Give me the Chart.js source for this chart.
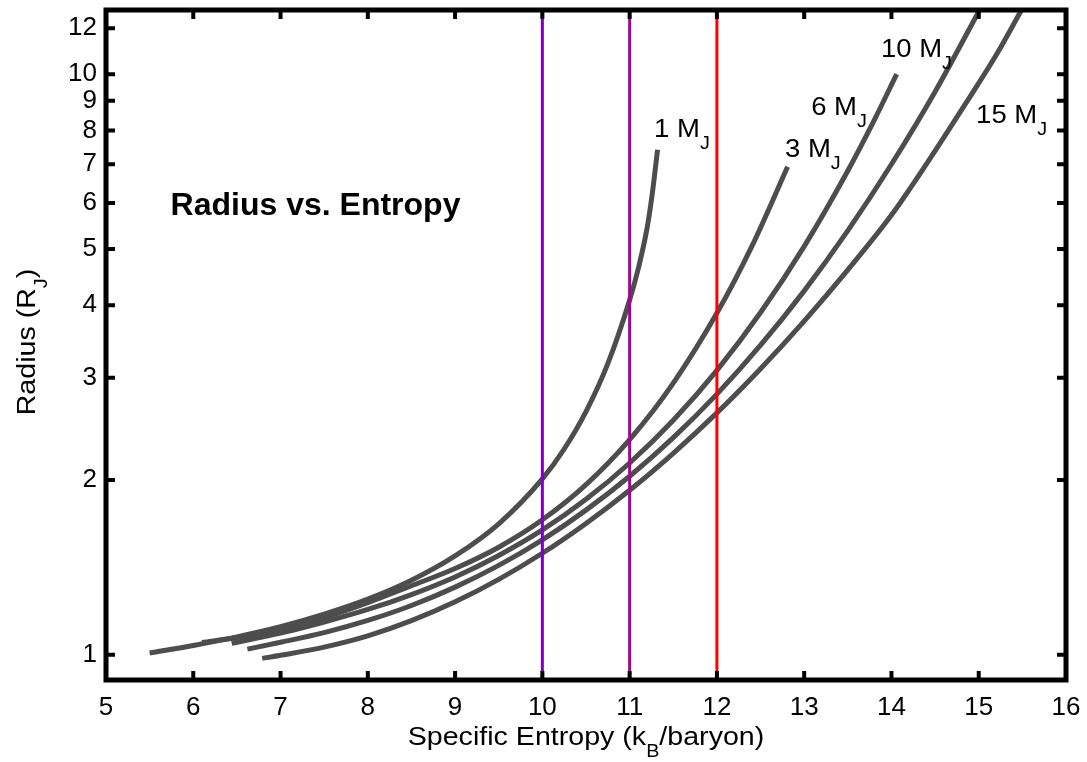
<!DOCTYPE html>
<html>
<head>
<meta charset="utf-8">
<script src="https://cdn.jsdelivr.net/npm/chart.js@4/dist/chart.umd.min.js"></script>
<style>
  html, body { margin: 0; padding: 0; background: #fff; }
  #wrap { width: 1087px; height: 762px; }
</style>
</head>
<body>
<div id="wrap"><canvas id="c" width="1087" height="762"></canvas></div>
<script>
// ---------- data ----------
const xTicks = [5, 6, 7, 8, 9, 10, 11, 12, 13, 14, 15, 16];
const yTicks = [1, 2, 3, 4, 5, 6, 7, 8, 9, 10, 12];
const xMin = 5, xMax = 16;
const yMin = 0.905, yMax = 12.9;

const masses = ['1', '3', '6', '10', '15'];

const entropy1 = [5.5, 6.0, 6.5, 7.0, 7.5, 8.0, 8.5, 9.0, 9.5, 10.0, 10.25, 10.5, 10.75, 11.0, 11.1, 11.2, 11.26, 11.32];
const radius1  = [1.007, 1.038, 1.074, 1.118, 1.175, 1.247, 1.344, 1.480, 1.681, 2.009, 2.262, 2.624, 3.173, 4.083, 4.632, 5.433, 6.237, 7.413];

const entropy3 = [6.1, 6.5, 7.0, 7.5, 8.0, 8.5, 9.0, 9.5, 10.0, 10.5, 11.0, 11.5, 12.0, 12.4, 12.81];
const radius3  = [1.05, 1.071, 1.104, 1.159, 1.230, 1.315, 1.408, 1.532, 1.708, 1.964, 2.348, 2.938, 3.878, 5.053, 6.93];

const entropy6 = [6.44, 7.0, 7.5, 8.0, 8.5, 9.0, 9.5, 10.0, 10.5, 11.0, 11.5, 12.0, 12.5, 13.0, 13.5, 13.8, 14.06];
const radius6  = [1.047, 1.090, 1.139, 1.197, 1.270, 1.362, 1.483, 1.641, 1.853, 2.140, 2.535, 3.090, 3.886, 5.053, 6.82, 8.32, 10.0];

const entropy10 = [6.62, 7.0, 7.5, 8.0, 8.5, 9.0, 9.5, 10.0, 10.5, 11.0, 11.5, 12.0, 12.5, 13.0, 13.5, 14.0, 14.5, 15.01];
const radius10  = [1.023, 1.051, 1.092, 1.146, 1.216, 1.308, 1.426, 1.578, 1.775, 2.030, 2.366, 2.812, 3.414, 4.235, 5.377, 6.996, 9.33, 12.9];

const entropy15 = [6.79, 7.0, 7.5, 8.0, 8.5, 9.0, 9.5, 10.0, 10.5, 11.0, 11.5, 12.0, 12.5, 13.0, 13.5, 14.0, 14.4, 14.86, 15.2, 15.49];
const radius15  = [0.986, 0.998, 1.031, 1.078, 1.145, 1.234, 1.349, 1.496, 1.684, 1.921, 2.224, 2.61, 3.11, 3.757, 4.603, 5.72, 7.0, 8.95, 10.79, 12.9];

// vertical reference lines
const refEntropy = [10, 11, 12];
const refColors = ['#7e00c2', '#aa0096', '#ff0000'];

// curve labels (data coordinates of label text, left / baseline)
const labelX = [11.28, 12.78, 13.08, 13.88, 14.97];
const labelY = [7.79, 7.20, 8.50, 10.7, 8.24];

const titleText = 'Radius vs. Entropy';
const titleX = 5.74, titleY = 5.72;

// ---------- build ----------
const FONT = '"Liberation Sans", Arial, Helvetica, sans-serif';
const STRETCH = 1.1;
const curveX = [entropy1, entropy3, entropy6, entropy10, entropy15];
const curveY = [radius1, radius3, radius6, radius10, radius15];

const datasets = [];
refEntropy.forEach((e, i) => {
  datasets.push({
    data: [{x: e, y: yMin}, {x: e, y: yMax}],
    borderColor: refColors[i], borderWidth: 3, pointRadius: 0, showLine: true,
    order: 0, clip: 0
  });
});
curveX.forEach((xs, i) => {
  datasets.push({
    data: xs.map((x, j) => ({x: x, y: curveY[i][j]})),
    borderColor: '#4d4d4d', borderWidth: 5, pointRadius: 0, showLine: true,
    borderCapStyle: 'butt', cubicInterpolationMode: 'monotone',
    order: 1
  });
});

function drawParts(ctx, x, y, parts, size, align, sx) {
  const subSize = Math.round(size * 0.7);
  const w = parts.map(p => {
    ctx.font = (p.sub ? subSize : size) + 'px ' + FONT;
    return ctx.measureText(p.t).width;
  });
  const total = w.reduce((a, b) => a + b, 0);
  ctx.save();
  ctx.translate(x, y);
  ctx.scale(sx, 1);
  let cx = align === 'center' ? -total / 2 : 0;
  ctx.textAlign = 'left';
  ctx.textBaseline = 'alphabetic';
  parts.forEach((p, i) => {
    ctx.font = (p.sub ? subSize : size) + 'px ' + FONT;
    ctx.fillText(p.t, cx, p.sub ? size * 0.48 : 0);
    cx += w[i];
  });
  ctx.restore();
}

const decor = {
  id: 'decor',
  afterDatasetsDraw(chart) {
    const ctx = chart.ctx;
    const a = chart.chartArea;
    const xs = chart.scales.x, ys = chart.scales.y;
    ctx.save();
    ctx.fillStyle = '#000';
    ctx.strokeStyle = '#000';
    // frame
    ctx.lineWidth = 5;
    ctx.strokeRect(a.left, a.top, a.right - a.left, a.bottom - a.top);
    // inward ticks
    ctx.lineWidth = 4;
    ctx.beginPath();
    xs.ticks.forEach(t => {
      const px = xs.getPixelForValue(t.value);
      if (px <= a.left + 2 || px >= a.right - 2) return;
      ctx.moveTo(px, a.bottom); ctx.lineTo(px, a.bottom - 9);
      ctx.moveTo(px, a.top); ctx.lineTo(px, a.top + 9);
    });
    ys.ticks.forEach(t => {
      const py = ys.getPixelForValue(t.value);
      ctx.moveTo(a.left, py); ctx.lineTo(a.left + 9, py);
      ctx.moveTo(a.right, py); ctx.lineTo(a.right - 9, py);
    });
    ctx.stroke();
    // curve labels
    masses.forEach((m, i) => {
      drawParts(ctx, xs.getPixelForValue(labelX[i]), ys.getPixelForValue(labelY[i]),
        [{t: m + ' M'}, {t: 'J', sub: true}], 25, 'left', STRETCH);
    });
    // inner title
    ctx.font = 'bold 32px ' + FONT;
    ctx.textAlign = 'left';
    ctx.textBaseline = 'alphabetic';
    ctx.fillText(titleText, xs.getPixelForValue(titleX), ys.getPixelForValue(titleY));
    // axis titles
    const cxm = (a.left + a.right) / 2, cym = (a.top + a.bottom) / 2;
    drawParts(ctx, cxm, 745, [{t: 'Specific Entropy (k'}, {t: 'B', sub: true}, {t: '/baryon)'}], 26, 'center', STRETCH);
    ctx.translate(35, cym - 3);
    ctx.rotate(-Math.PI / 2);
    drawParts(ctx, 0, 0, [{t: 'Radius (R'}, {t: 'J', sub: true}, {t: ')'}], 26, 'center', STRETCH);
    ctx.restore();
  }
};

new Chart(document.getElementById('c'), {
  type: 'scatter',
  data: { datasets },
  options: {
    responsive: false,
    animation: false,
    devicePixelRatio: 1,
    layout: { padding: { top: 10, right: 21, left: 0, bottom: 0 } },
    plugins: { legend: { display: false }, tooltip: { enabled: false } },
    scales: {
      x: {
        type: 'linear', min: xMin, max: xMax,
        afterBuildTicks: s => { s.ticks = xTicks.map(v => ({value: v})); },
        ticks: { autoSkip: false, maxRotation: 0, padding: 12, color: '#000',
                 font: { size: 26, family: FONT }, callback: v => String(v) },
        grid: { display: false, drawTicks: false },
        border: { display: false },
        afterFit: s => { s.height = 82; s.paddingLeft = 0; s.paddingRight = 0; }
      },
      y: {
        type: 'logarithmic', min: yMin, max: yMax,
        afterBuildTicks: s => { s.ticks = yTicks.map(v => ({value: v})); },
        ticks: { autoSkip: false, padding: 9, color: '#000',
                 font: { size: 26, family: FONT }, callback: v => String(v) },
        grid: { display: false, drawTicks: false },
        border: { display: false },
        afterFit: s => { s.width = 106; s.paddingTop = 0; s.paddingBottom = 0; }
      }
    }
  },
  plugins: [decor]
});
</script>
</body>
</html>
